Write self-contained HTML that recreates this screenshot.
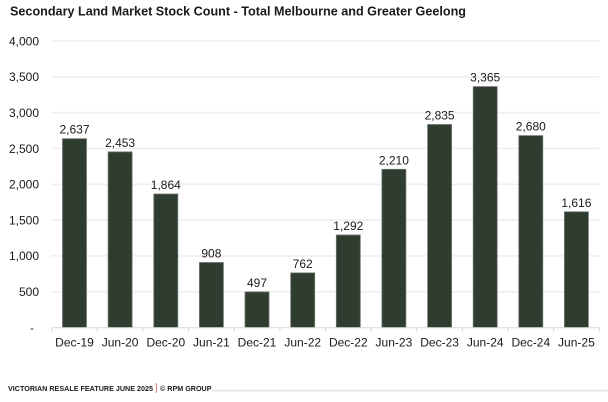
<!DOCTYPE html>
<html><head><meta charset="utf-8"><style>
html,body{margin:0;padding:0;background:#fff;}
svg{display:block;}
text{font-family:"Liberation Sans",Arial,sans-serif;fill:#1a1a1a;}
</style></head><body>
<svg width="608" height="402" viewBox="0 0 608 402" xmlns="http://www.w3.org/2000/svg">
<text x="10" y="15.7" font-size="13" font-weight="bold" textLength="456" lengthAdjust="spacingAndGlyphs" fill="#1f1f1f">Secondary Land Market Stock Count - Total Melbourne and Greater Geelong</text>
<g stroke="#efefef" stroke-width="1.6">
<line x1="51.7" x2="599.3" y1="41.1" y2="41.1"/>
<line x1="51.7" x2="599.3" y1="76.9" y2="76.9"/>
<line x1="51.7" x2="599.3" y1="112.7" y2="112.7"/>
<line x1="51.7" x2="599.3" y1="148.5" y2="148.5"/>
<line x1="51.7" x2="599.3" y1="184.3" y2="184.3"/>
<line x1="51.7" x2="599.3" y1="220.1" y2="220.1"/>
<line x1="51.7" x2="599.3" y1="255.9" y2="255.9"/>
<line x1="51.7" x2="599.3" y1="291.7" y2="291.7"/>
</g>
<g font-size="12" text-anchor="end">
<text x="39" y="45.4">4,000</text>
<text x="39" y="81.2">3,500</text>
<text x="39" y="117">3,000</text>
<text x="39" y="152.8">2,500</text>
<text x="39" y="188.6">2,000</text>
<text x="39" y="224.4">1,500</text>
<text x="39" y="260.2">1,000</text>
<text x="39" y="296">500</text>
<text x="34" y="331.8">-</text>
</g>
<g fill="#2f3d30" stroke="#6f776e" stroke-width="0.8">
<rect x="62.5" y="138.7" width="24" height="188.8"/>
<rect x="108.1" y="151.9" width="24" height="175.6"/>
<rect x="153.8" y="194.0" width="24" height="133.5"/>
<rect x="199.4" y="262.5" width="24" height="65.0"/>
<rect x="245.0" y="291.9" width="24" height="35.6"/>
<rect x="290.7" y="272.9" width="24" height="54.6"/>
<rect x="336.3" y="235.0" width="24" height="92.5"/>
<rect x="381.9" y="169.3" width="24" height="158.2"/>
<rect x="427.6" y="124.5" width="24" height="203.0"/>
<rect x="473.2" y="86.6" width="24" height="240.9"/>
<rect x="518.8" y="135.6" width="24" height="191.9"/>
<rect x="564.4" y="211.8" width="24" height="115.7"/>
</g>
<g font-size="12" text-anchor="middle">
<text x="74.5" y="133.7">2,637</text>
<text x="120.1" y="146.9">2,453</text>
<text x="165.8" y="189">1,864</text>
<text x="211.4" y="257.5">908</text>
<text x="257" y="286.9">497</text>
<text x="302.7" y="267.9">762</text>
<text x="348.3" y="230">1,292</text>
<text x="393.9" y="164.3">2,210</text>
<text x="439.6" y="119.5">2,835</text>
<text x="485.2" y="81.6">3,365</text>
<text x="530.8" y="130.6">2,680</text>
<text x="576.4" y="206.8">1,616</text>
</g>
<line x1="51.7" x2="599.3" y1="327.8" y2="327.8" stroke="#d9d9d9" stroke-width="1"/>
<g stroke="#d9d9d9" stroke-width="1">
<line x1="51.7" x2="51.7" y1="327.5" y2="332"/>
<line x1="97.3" x2="97.3" y1="327.5" y2="332"/>
<line x1="143" x2="143" y1="327.5" y2="332"/>
<line x1="188.6" x2="188.6" y1="327.5" y2="332"/>
<line x1="234.2" x2="234.2" y1="327.5" y2="332"/>
<line x1="279.9" x2="279.9" y1="327.5" y2="332"/>
<line x1="325.5" x2="325.5" y1="327.5" y2="332"/>
<line x1="371.1" x2="371.1" y1="327.5" y2="332"/>
<line x1="416.7" x2="416.7" y1="327.5" y2="332"/>
<line x1="462.4" x2="462.4" y1="327.5" y2="332"/>
<line x1="508" x2="508" y1="327.5" y2="332"/>
<line x1="553.6" x2="553.6" y1="327.5" y2="332"/>
<line x1="599.3" x2="599.3" y1="327.5" y2="332"/>
</g>
<g font-size="12" text-anchor="middle">
<text x="74.5" y="346.5">Dec-19</text>
<text x="120.1" y="346.5">Jun-20</text>
<text x="165.8" y="346.5">Dec-20</text>
<text x="211.4" y="346.5">Jun-21</text>
<text x="257" y="346.5">Dec-21</text>
<text x="302.7" y="346.5">Jun-22</text>
<text x="348.3" y="346.5">Dec-22</text>
<text x="393.9" y="346.5">Jun-23</text>
<text x="439.6" y="346.5">Dec-23</text>
<text x="485.2" y="346.5">Jun-24</text>
<text x="530.8" y="346.5">Dec-24</text>
<text x="576.4" y="346.5">Jun-25</text>
</g>
<text x="8" y="390.8" font-size="7" font-weight="bold" textLength="145" lengthAdjust="spacingAndGlyphs" fill="#2a2a2a">VICTORIAN RESALE FEATURE JUNE 2025</text>
<line x1="156.3" x2="156.3" y1="383" y2="393" stroke="#d9534f" stroke-width="0.8"/>
<text x="160" y="390.8" font-size="7" font-weight="bold" textLength="51.5" lengthAdjust="spacingAndGlyphs" fill="#2a2a2a">© RPM GROUP</text>
<line x1="212" x2="608" y1="390.8" y2="390.8" stroke="#dcdcdc" stroke-width="1.2"/>
</svg>
</body></html>
